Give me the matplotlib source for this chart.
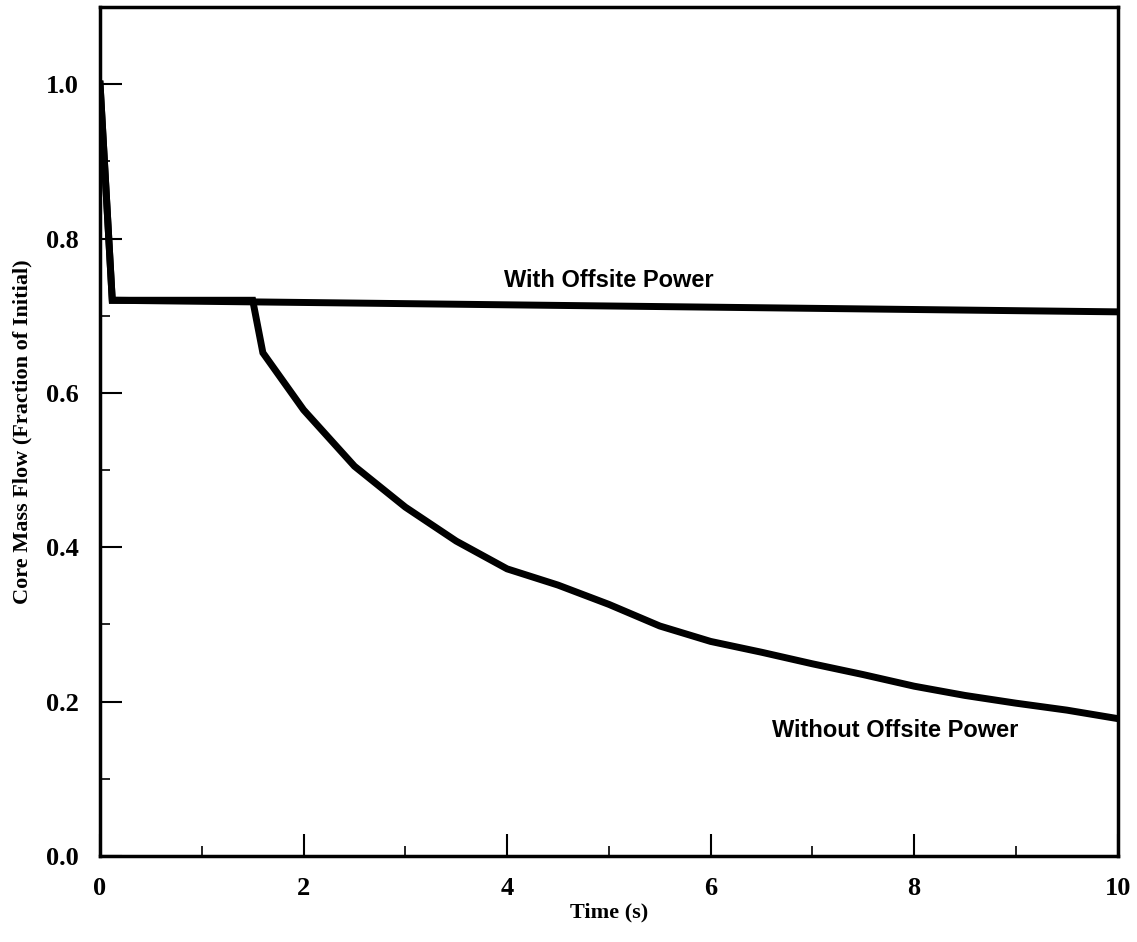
import numpy as np
import matplotlib.pyplot as plt
from matplotlib.ticker import MultipleLocator

# data
t_with = [0.0, 0.12, 10.0]
flow_with = [1.0, 0.72, 0.705]

t_without = [0.0, 0.12, 1.5, 1.6, 2.0, 2.5, 3.0, 3.5, 4.0, 4.5, 5.0, 5.5,
             6.0, 6.5, 7.0, 7.5, 8.0, 8.5, 9.0, 9.5, 10.0]
flow_without = [1.0, 0.72, 0.72, 0.652, 0.578, 0.505, 0.452, 0.408, 0.372,
                0.351, 0.326, 0.298, 0.278, 0.264, 0.249, 0.235, 0.22, 0.208,
                0.198, 0.189, 0.178]

x_ticks = [0, 2, 4, 6, 8, 10]
y_ticks = [0.0, 0.2, 0.4, 0.6, 0.8, 1.0]

plt.rcParams['font.family'] = ['Liberation Serif', 'DejaVu Serif']

fig = plt.figure(figsize=(11.37, 9.42), dpi=100)
ax = fig.add_axes([0.088, 0.0913, 0.895, 0.9013])

ax.plot(t_without, flow_without, color='black', lw=5, solid_joinstyle='miter')
ax.plot(t_with, flow_with, color='black', lw=5, solid_joinstyle='miter')

ax.set_xlim(0, 10)
ax.set_ylim(0, 1.1)
ax.set_xticks(x_ticks)
ax.set_yticks(y_ticks)
ax.set_xticklabels([str(v) for v in x_ticks])
ax.set_yticklabels(['%.1f' % v for v in y_ticks])
ax.xaxis.set_minor_locator(MultipleLocator(1))
ax.yaxis.set_minor_locator(MultipleLocator(0.1))

ax.tick_params(which='major', direction='in', length=16, width=1.5,
               labelsize=19, pad=15, top=False, right=False)
ax.tick_params(which='minor', direction='in', length=7, width=1.2,
               top=False, right=False)
for lab in ax.get_xticklabels() + ax.get_yticklabels():
    lab.set_fontweight('bold')

for s in ax.spines.values():
    s.set_linewidth(2.5)

ax.set_xlabel('Time (s)', fontsize=16, fontweight='bold', labelpad=2)
ax.set_ylabel('Core Mass Flow (Fraction of Initial)', fontsize=16,
              fontweight='bold', labelpad=10)

ax.text(5.0, 0.745, 'With Offsite Power', fontsize=17, fontweight='bold',
        family=['Liberation Sans', 'DejaVu Sans'], ha='center', va='center')
ax.text(7.81, 0.162, 'Without Offsite Power', fontsize=17, fontweight='bold',
        family=['Liberation Sans', 'DejaVu Sans'], ha='center', va='center')

fig.savefig('out.png', dpi=100)
